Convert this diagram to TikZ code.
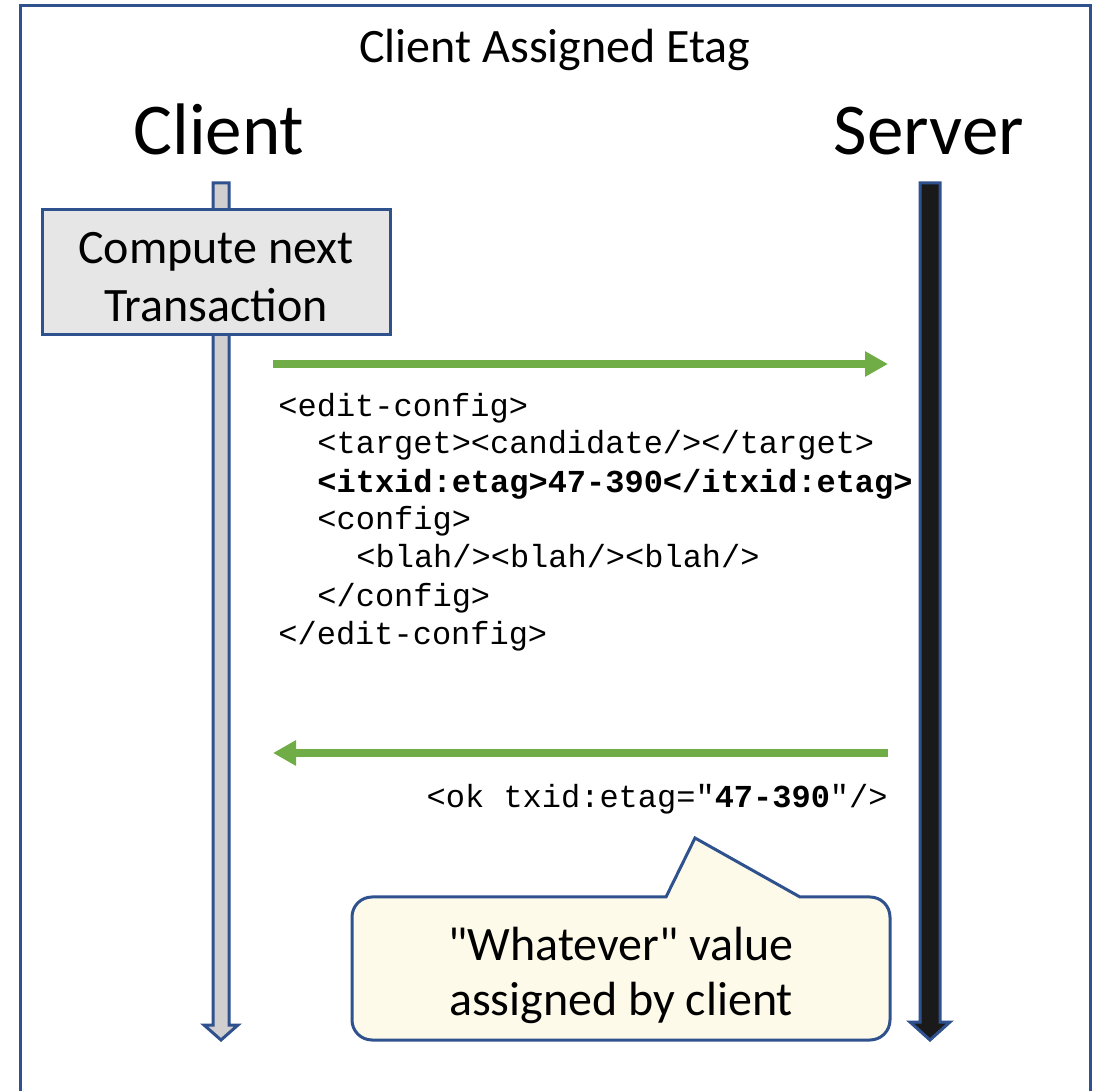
\documentclass[tikz,border=0pt]{standalone}
\usepackage{fontspec}
\setmainfont{Carlito}
\setmonofont{Liberation Mono}
\usetikzlibrary{arrows.meta}
\definecolor{frameblue}{HTML}{2F528F}
\definecolor{msggreen}{HTML}{70AD47}
\definecolor{clientgray}{HTML}{D0CECE}
\definecolor{boxgray}{HTML}{E7E6E6}
\definecolor{servblack}{HTML}{1A1A1A}
\definecolor{noteyellow}{HTML}{FEFAEA}
\tikzset{
  msg/.style={draw=msggreen, line width=4pt, -{Triangle[length=11.5pt,width=12pt]}},
  code/.style={anchor=base west, inner sep=0pt, font=\fontsize{16}{19}\selectfont\ttfamily},
  lifeline/.style={draw=frameblue, line width=1.5pt, line join=miter},
  party/.style={anchor=base, inner sep=0pt, font=\fontsize{36.5}{40}\selectfont},
}
\begin{document}
\begin{tikzpicture}[x=0.5pt,y=-0.5pt]
        \useasboundingbox (0,0) rectangle (1100,1091);
        % outer frame, open at the bottom
        \draw[frameblue, line width=1.5pt] (20,1091) -- (20,6) -- (1090,6) -- (1090,1091);
        \node[anchor=base, inner sep=0pt, font=\fontsize{24}{28}\selectfont] (title) at (555,63) {Client Assigned Etag};
        \node[party] (client) at (219,155) {Client};
        \node[party] (server) at (929,155) {Server};
        % lifelines
        \draw[lifeline, fill=clientgray] (213,183) -- (229,183) -- (229,1025) -- (238,1025)
            -- (221,1040) -- (204,1025) -- (213,1025) -- cycle;
        \draw[lifeline, fill=servblack] (920,183) -- (940,183) -- (940,1022) -- (950,1022)
            -- (930,1040) -- (910,1022) -- (920,1022) -- cycle;
        \draw[draw=frameblue, line width=1.5pt, fill=boxgray] (42,210) rectangle (390,335);
        \node[align=center, font=\fontsize{24}{29}\selectfont] (compute) at (216,277) {Compute next\\Transaction};
        % request
        \coordinate (req-a) at (273,364);
        \coordinate (req-b) at (888,364);
        \draw[msg] (req-a) -- (req-b);
        \node[code] (code1) at (278,417) {<edit-config>};
        \node[code] (code2) at (317,454) {<target><candidate/></target>};
        \node[code] (code3) at (317,493) {\bfseries <itxid:etag>47-390</itxid:etag>};
        \node[code] (code4) at (317,530) {<config>};
        \node[code] (code5) at (356,568) {<blah/><blah/><blah/>};
        \node[code] (code6) at (317,607) {</config>};
        \node[code] (code7) at (278,645) {</edit-config>};
        % reply
        \coordinate (resp-a) at (888,753);
        \coordinate (resp-b) at (273,753);
        \draw[msg] (resp-a) -- (resp-b);
        \node[code, anchor=base east] (okline) at (888,808) {<ok txid:etag="\textbf{47-390}"/>};
        % callout
        \draw[frameblue, line width=1.5pt, fill=noteyellow] (666,897) -- (695,838) -- (800,897)
            [rounded corners=10pt] -- (890,897) -- (890,1040) -- (352,1040) -- (352,897) [sharp corners] -- cycle;
        \node[align=center, font=\fontsize{24}{27.5}\selectfont] (note) at (621,975) {\textquotedbl Whatever\textquotedbl{} value\\assigned by client};
\end{tikzpicture}
\end{document}
